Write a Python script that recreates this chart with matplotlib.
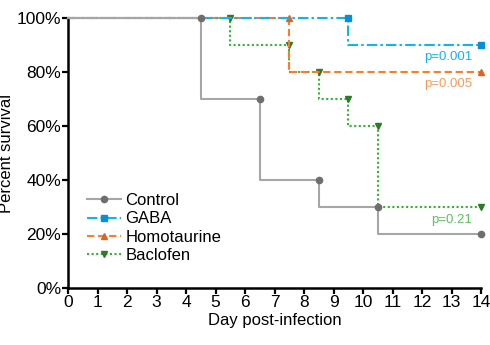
import numpy as np
import matplotlib
matplotlib.use("Agg")
import matplotlib.pyplot as plt
from matplotlib.legend_handler import HandlerLine2D

plt.rcParams['font.family'] = ['Liberation Sans', 'DejaVu Sans']

groups = ["Control", "GABA", "Homotaurine", "Baclofen"]
# event days and survival (%) right after each event
control_days = [0, 4.5, 6.5, 8.5, 10.5, 14]
control_surv = [100, 70, 40, 30, 20, 20]
gaba_days = [0, 9.5, 14]
gaba_surv = [100, 90, 90]
homo_days = [0, 7.5, 14]
homo_surv = [100, 80, 80]
baclofen_days = [0, 5.5, 7.5, 8.5, 9.5, 10.5, 14]
baclofen_surv = [100, 90, 80, 70, 60, 30, 30]
p_labels = {"GABA": "p=0.001", "Homotaurine": "p=0.005", "Baclofen": "p=0.21"}

series = {
    "Control": (control_days, control_surv),
    "GABA": (gaba_days, gaba_surv),
    "Homotaurine": (homo_days, homo_surv),
    "Baclofen": (baclofen_days, baclofen_surv),
}
style = {
    "Control": dict(color="#a6a6a6", mcol="#6e6e6e", ls="-", marker="o", ms=4.5, text="#a6a6a6", z=5),
    "GABA": dict(color="#13b4ea", mcol="#0a8fd6", ls=(0, (5, 1.5, 1.2, 1.5)), marker="s", ms=4, text="#13b4ea", z=4),
    "Homotaurine": dict(color="#fb7d2c", mcol="#dd6420", ls=(0, (3.5, 1.8)), marker="^", ms=5, text="#f79a5a", z=3),
    "Baclofen": dict(color="#2fb52f", mcol="#2e7a2a", ls=(0, (1, 1.2)), marker="v", ms=5, text="#5cc25c", z=2),
}


class EndMarkerHandler(HandlerLine2D):
    # put the legend marker at the right end of the line sample
    def get_xdata(self, legend, xdescent, ydescent, width, height, fontsize):
        xdata = np.array([-xdescent, -xdescent + width])
        return xdata, np.array([-xdescent + width])


fig = plt.figure(figsize=(4.9, 3.45), dpi=100)
ax = fig.add_axes([0.139, 0.165, 0.843, 0.783])

handles = []
for g in groups:
    d, s = series[g]
    st = style[g]
    ax.step(d, s, where="post", color=st["color"], ls=st["ls"], lw=1.5,
            zorder=st["z"], clip_on=False)
    # marker at the top of each drop plus the end of follow-up
    mx = d[1:]
    my = s[:-1]
    ax.plot(mx, my, ls="none", marker=st["marker"], color=st["mcol"], ms=st["ms"],
            zorder=st["z"] + 0.5, clip_on=False)
    h, = ax.plot([], [], color=st["color"], ls=st["ls"], lw=1.5,
                 marker=st["marker"], mfc=st["mcol"], mec=st["mcol"], ms=st["ms"])
    handles.append(h)

for g, lab in p_labels.items():
    d, s = series[g]
    ax.annotate(lab, xy=(d[-1], s[-1]), xytext=(-6.5, -9), textcoords="offset points",
                ha="right", va="center", fontsize=9.5, color=style[g]["text"])

ax.set_xlim(0, 14)
ax.set_ylim(0, 100)
ax.set_xticks(range(0, 15))
ax.set_yticks(range(0, 101, 20))
ax.set_yticklabels([f"{v}%" for v in range(0, 101, 20)])
ax.spines["top"].set_visible(False)
ax.spines["right"].set_visible(False)
ax.spines["left"].set_linewidth(1.8)
ax.spines["bottom"].set_linewidth(1.8)
ax.tick_params(direction="out", length=4, width=1.6, labelsize=12.5, pad=1)
ax.set_xlabel("Day post-infection", fontsize=12, labelpad=2)
ax.set_ylabel("Percent survival", fontsize=12, labelpad=2)

ax.legend(handles, groups, loc="upper left", bbox_to_anchor=(0.018, 0.395),
          frameon=False, fontsize=12, handlelength=2.0, handletextpad=0.3,
          labelspacing=0.2, borderpad=0.2,
          handler_map={h: EndMarkerHandler() for h in handles})

fig.savefig("out.png", dpi=100)
